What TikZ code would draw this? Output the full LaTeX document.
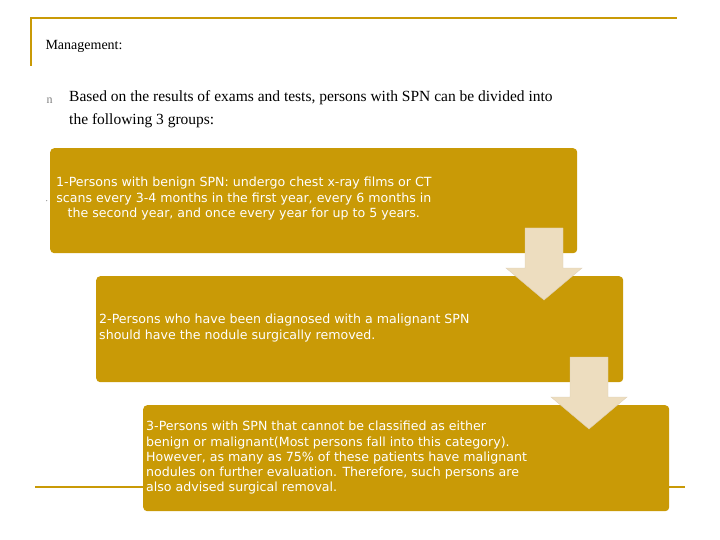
\documentclass[tikz,border=0pt]{standalone}
\usepackage{fontspec}
\setmainfont{Liberation Serif}
\newfontfamily\boxfont{DejaVu Sans}
\definecolor{gold}{HTML}{C99A06}
\definecolor{pale}{HTML}{EDDDBF}
\tikzset{
    box/.style={rectangle, rounded corners=4pt, fill=gold, anchor=north west},
    txt/.style={text=white, font=\boxfont\fontsize{12.6}{15.3}\selectfont, align=left, anchor=north west, inner sep=0pt},
    down/.style={fill=pale, draw=pale!85!gray}
}
\newcommand{\steparrow}[2]{% #1 = x of centre, #2 = y of top
    \path[down] (#1-19,#2) -- (#1+19,#2) -- (#1+19,#2+40) -- (#1+38,#2+40) -- (#1,#2+72)
        -- (#1-38,#2+40) -- (#1-19,#2+40) -- cycle;}
\begin{document}
\begin{tikzpicture}[x=1pt, y=-1pt]
    \useasboundingbox (0,0) rectangle (720,540);
    \draw[gold, line width=2pt] (31,66) -- (31,18) -- (677,18);
    \draw[gold, line width=2pt] (35,487) -- (685,487);
    \node[anchor=west, font=\fontsize{14}{16}\selectfont] (title) at (42,46) {Management:};
    \node[anchor=west, font=\fontsize{12}{14}\selectfont, text=gray] (bullet) at (43,101) {n};
    \node[anchor=north west, align=left, font=\fontsize{15.5}{23}\selectfont, inner sep=0pt] (intro) at (69,90)
        {Based on the results of exams and tests, persons with SPN can be divided into\\the following 3 groups:};
    \node[anchor=center, font=\small] (dot) at (47,201) {$\cdot$};
    \node[box, minimum width=527pt, minimum height=105pt] (b1) at (50,148) {};
    \node[box, minimum width=527pt, minimum height=106pt] (b2) at (96,276) {};
    \node[box, minimum width=526pt, minimum height=106pt] (b3) at (143,405) {};
    \steparrow{544}{228}
    \steparrow{589}{357}
    \node[txt, align=center] (t1) at (56,177)
        {1-Persons with benign SPN: undergo chest x-ray films or CT\\scans every 3-4 months in the first year, every 6 months in\\the second year, and once every year for up to 5 years.};
    \node[txt] (t2) at (99,314)
        {2-Persons who have been diagnosed with a malignant SPN\\should have the nodule surgically removed.};
    \node[txt] (t3) at (146,421)
        {3-Persons with SPN that cannot be classified as either\\benign or malignant(Most persons fall into this category).\\However, as many as 75\% of these patients have malignant\\nodules on further evaluation. Therefore, such persons are\\also advised surgical removal.};
\end{tikzpicture}
\end{document}
